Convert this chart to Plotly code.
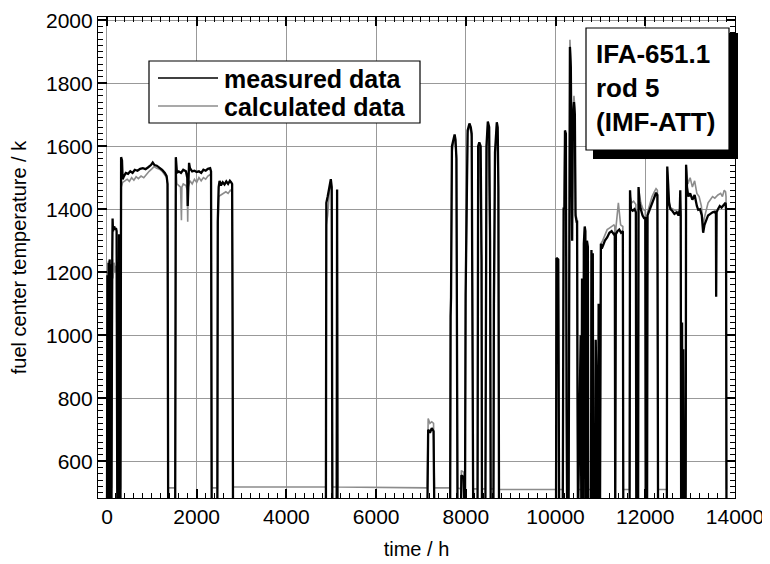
import plotly.graph_objects as go

# ---------------- data (time / h, temperature / K) ----------------
meas_t = [
    0, 10, 20, 35, 45, 60, 75, 90, 100, 115, 125, 135, 160, 185, 200, 215, 230, 255, 270, 280, 300,
    315, 335, 350, 380, 420, 470, 520, 570, 620, 680, 740, 800, 860, 920, 980, 1020, 1060, 1110, 1170,
    1230, 1290, 1330, 1350, 1365,
    1520, 1535, 1560, 1600, 1650, 1700, 1760, 1790, 1800, 1810, 1830, 1850, 1900, 1950, 2000, 2050,
    2100, 2150, 2200, 2250, 2300, 2320, 2335,
    2460, 2470, 2490, 2510, 2540, 2580, 2620, 2660, 2700, 2740, 2770, 2790, 2800, 2810,
    4880, 4890, 4920, 4960, 4990, 5010, 5025, 5120, 5130, 5140,
    7140, 7160, 7200, 7240, 7280, 7300,
    7650, 7660, 7670, 7690, 7720, 7750, 7770, 7790, 7800, 7815,
    7890, 7900, 7950, 7960,
    7980, 7995, 8010, 8040, 8080, 8110, 8130, 8150, 8165,
    8260, 8275, 8300, 8330, 8350, 8360,
    8435, 8440, 8460, 8490, 8520, 8540, 8555,
    8615, 8625, 8650, 8690, 8710, 8725, 8740,
    10010, 10020, 10060, 10080,
    10160, 10180, 10200, 10210, 10230, 10245, 10260,
    10290, 10300, 10320, 10340, 10355, 10370, 10385, 10410, 10430, 10445, 10470, 10480, 10490, 10500,
    10560, 10575, 10590, 10620, 10630, 10650, 10665, 10675, 10700, 10720, 10730,
    10790, 10800, 10815, 10830, 10840,
    10880, 10895, 10905, 10915, 10930, 10945, 10960, 10975,
    10990, 11010, 11030, 11060, 11100, 11150, 11200, 11250, 11300, 11320, 11330, 11345, 11380, 11420,
    11460, 11500, 11510,
    11650, 11660, 11680, 11720, 11760, 11790, 11800,
    11840, 11850, 11870, 11900, 11940, 11980, 12000, 12010,
    12040, 12050, 12100, 12150, 12200, 12240, 12270, 12285,
    12480, 12490, 12510, 12530, 12560, 12600, 12650, 12700, 12740, 12770, 12780, 12790, 12800,
    12820, 12830, 12845, 12860, 12875,
    12900, 12910, 12930, 12960, 13000, 13050, 13100, 13150, 13180, 13220, 13260, 13290, 13320, 13360,
    13400, 13450, 13500, 13550, 13575, 13580, 13590, 13620, 13660, 13700, 13750, 13790, 13800, 13810,
]
meas_T = [
    400, 1190, 420, 1230, 430, 1240, 450, 1225, 420, 1200, 1370, 1330, 1345, 1335, 1340, 1330, 440, 430, 1320, 400, 420,
    1565, 1555, 1495, 1505, 1515, 1512, 1520, 1515, 1525, 1522, 1528, 1530, 1527, 1533, 1540, 1548, 1540, 1538, 1532,
    1525, 1515, 1505, 1480, 400,
    400, 1565, 1515, 1520, 1515, 1525, 1520, 1500, 1410, 1510, 1547, 1530, 1520, 1522, 1518, 1520,
    1515, 1525, 1522, 1528, 1530, 1520, 400,
    400, 1360, 1470, 1490, 1475, 1485, 1478, 1488, 1480, 1490, 1485, 1480, 1050, 400,
    400, 1420, 1440, 1470, 1495, 1470, 400, 400, 1462, 400,
    400, 700, 690, 705, 695, 400,
    400, 1060, 1120, 1600, 1625, 1637, 1620, 1560, 1100, 400,
    400, 555, 550, 400,
    400, 1130, 1300, 1650, 1672, 1660, 1640, 1050, 400,
    400, 1600, 1612, 1600, 1240, 400,
    400, 960, 1600, 1678, 1660, 1300, 400,
    400, 1100, 1580, 1676, 1660, 1470, 400,
    400, 1245, 1240, 400,
    400, 1405, 1400, 1650, 1640, 770, 400,
    400, 1500, 1915, 1850, 1400, 1300, 1690, 1740, 1700, 1380, 1360, 1360, 800, 400,
    1000, 400, 1180, 400, 1290, 1345, 1330, 400, 1300, 1280, 400,
    400, 1270, 600, 1260, 400,
    400, 985, 900, 400, 805, 400, 1100, 400,
    400, 1290, 1275, 1285, 1300, 1310, 1325, 1330, 1320, 1325, 400, 1320, 1330, 1335,
    1325, 1330, 400,
    400, 1460, 1400, 1395, 1400, 1390, 400,
    400, 1470, 1420, 1400, 1380, 1370, 1375, 400,
    400, 1380, 1400, 1420, 1440, 1452, 1445, 400,
    400, 1535, 1480, 1420, 1400, 1395, 1385, 1390, 1380, 1400, 1460, 1380, 400,
    1040, 400, 955, 400, 400,
    400, 1541, 1470, 1440, 1450, 1430, 1445, 1410, 1398, 1400, 1380, 1325, 1350, 1365,
    1380, 1385, 1390, 1392, 1385, 1122, 1390, 1400, 1410, 1405, 1415, 1420, 1400, 400,
]

calc_t = [
    0, 10, 20, 35, 45, 60, 75, 90, 100, 115, 125, 135, 160, 185, 200, 215, 230, 255, 270, 280, 300,
    320, 350, 400, 450, 500, 550, 600, 650, 700, 760, 820, 880, 940, 1000, 1050, 1110, 1170, 1230,
    1290, 1330, 1350, 1365,
    1520, 1535, 1560, 1600, 1640, 1660, 1670, 1700, 1760, 1790, 1800, 1810, 1850, 1900, 1950, 2000,
    2050, 2100, 2150, 2200, 2250, 2300, 2320, 2335,
    2460, 2470, 2490, 2540, 2600, 2650, 2700, 2750, 2790, 2800, 2810,
    4880, 4890, 4920, 4960, 4990, 5010, 5025, 5120, 5130, 5140,
    7140, 7160, 7200, 7240, 7280, 7300,
    7650, 7660, 7690, 7750, 7790, 7815,
    7890, 7900, 7950, 7960,
    7980, 7995, 8040, 8080, 8130, 8165,
    8260, 8275, 8300, 8350, 8360,
    8435, 8460, 8490, 8540, 8555,
    8615, 8650, 8690, 8725, 8740,
    10010, 10020, 10060, 10080,
    10160, 10180, 10210, 10230, 10260,
    10290, 10300, 10320, 10340, 10355, 10370, 10385, 10410, 10430, 10445, 10470, 10490, 10500,
    10620, 10630, 10650, 10675, 10700, 10730,
    10790, 10800, 10840,
    10880, 10895, 10915, 10930, 10945,
    10990, 11010, 11050, 11100, 11150, 11200, 11250, 11300, 11320, 11330, 11345, 11400, 11450,
    11500, 11510,
    11650, 11660, 11700, 11740, 11790, 11800,
    11840, 11850, 11900, 11950, 12000, 12010,
    12040, 12050, 12100, 12150, 12200, 12240, 12270, 12285,
    12480, 12490, 12520, 12560, 12620, 12680, 12740, 12790, 12800,
    12900, 12910, 12950, 13000, 13050, 13100, 13150, 13200, 13250, 13290, 13330, 13400, 13450,
    13500, 13550, 13620, 13680, 13720, 13760, 13790, 13800, 13810,
]
calc_T = [
    515, 1180, 515, 1235, 515, 1240, 515, 1200, 515, 1190, 1240, 1180, 1230, 1200, 1220, 1190, 515, 515, 1300, 515, 515,
    1470, 1485, 1490, 1495, 1488, 1500, 1492, 1503, 1497, 1505, 1500, 1512, 1520, 1528, 1535, 1530, 1527, 1520,
    1510, 1500, 1480, 515,
    515, 1540, 1480, 1475, 1470, 1365, 1470, 1480, 1475, 1460, 1360, 1470, 1490, 1480, 1495, 1485,
    1500, 1490, 1500, 1495, 1505, 1510, 1500, 515,
    515, 1300, 1440, 1445, 1450, 1455, 1450, 1460, 1455, 1040, 518,
    518, 1350, 1380, 1460, 1480, 1460, 518, 518, 1445, 518,
    515, 735, 720, 725, 720, 515,
    515, 1000, 1580, 1630, 1570, 515,
    512, 570, 565, 512,
    512, 1100, 1640, 1668, 1630, 512,
    512, 1590, 1605, 1230, 512,
    512, 1590, 1670, 1290, 512,
    512, 1570, 1668, 1460, 510,
    510, 1240, 1235, 510,
    510, 1395, 1640, 1630, 510,
    510, 1450, 1938, 1870, 1420, 1320, 1700, 1760, 1720, 1390, 1370, 800, 510,
    510, 1280, 1340, 510, 1290, 510,
    510, 1265, 510,
    510, 980, 510, 800, 510,
    510, 1290, 1300, 1320, 1335, 1340, 1345, 1350, 1345, 510, 1340, 1420, 1350,
    1345, 510,
    510, 1440, 1420, 1425, 1415, 510,
    510, 1465, 1420, 1400, 1395, 510,
    510, 1390, 1420, 1440, 1455, 1465, 1460, 510,
    510, 1520, 1430, 1405, 1400, 1395, 1390, 1395, 510,
    510, 1541, 1480, 1500, 1470, 1490, 1450, 1440, 1410, 1350, 1380, 1420, 1430,
    1440, 1435, 1445, 1450, 1440, 1460, 1455, 1440, 510,
]

x_ticks = [0, 2000, 4000, 6000, 8000, 10000, 12000, 14000]
y_ticks = [600, 800, 1000, 1200, 1400, 1600, 1800, 2000]
x_range = [-200, 14000]
y_range = [483, 2010]
series_names = ["measured data", "calculated data"]
box_lines = ["IFA-651.1", "rod 5", "(IMF-ATT)"]

# ---------------- layout helpers ----------------
# the page body has an 8px default margin, so the figure is placed at (8, 8)
OFF = 8
W, H = 770 - OFF, 564 - OFF
ML, MR, MT, MB = 98 - OFF, 35, 17 - OFF, 66
PL, PT = 98, 17              # plot-area top-left in page pixels
PW, PH = 637, 481


def px(x):
    return (x - PL) / PW


def py(y):
    return 1 - (y - PT) / PH


GRAY = "#8c8c8c"
FONT = "Liberation Sans, Arial, Helvetica, sans-serif"

fig = go.Figure()
fig.add_trace(go.Scatter(x=calc_t, y=calc_T, mode="lines", name=series_names[1],
                         line=dict(color=GRAY, width=1.6), showlegend=False))
fig.add_trace(go.Scatter(x=meas_t, y=meas_T, mode="lines", name=series_names[0],
                         line=dict(color="black", width=2.3), showlegend=False))
# empty trace on the overlay axes that carry the minor ticks
fig.add_trace(go.Scatter(x=[None], y=[None], xaxis="x2", yaxis="y2", showlegend=False, hoverinfo="skip"))

tickfont = dict(family=FONT, size=21, color="black")
fig.update_layout(
    xaxis=dict(range=x_range, tickvals=x_ticks, ticktext=[str(v) for v in x_ticks],
               showline=True, linecolor="black", linewidth=1.2, mirror="ticks",
               ticks="inside", tickcolor="black", tickwidth=1.5, ticklen=9,
               showgrid=True, gridcolor="#999999", gridwidth=1, zeroline=False, automargin=False,
               tickfont=tickfont,
               title=dict(text="time / h", font=dict(family=FONT, size=20, color="black"), standoff=14)),
    yaxis=dict(range=y_range, tickvals=y_ticks, ticktext=[str(v) for v in y_ticks],
               showline=True, linecolor="black", linewidth=1.2, mirror="ticks",
               ticks="inside", tickcolor="black", tickwidth=1.5, ticklen=9,
               showgrid=True, gridcolor="#999999", gridwidth=1, zeroline=False, automargin=False,
               tickfont=tickfont,
               title=dict(text="fuel center temperature / k", font=dict(family=FONT, size=20, color="black"),
                          standoff=14)),
    xaxis2=dict(range=x_range, overlaying="x", anchor="y2", side="bottom", tickmode="linear", tick0=0, dtick=200,
                ticks="inside", ticklen=5, tickcolor="black", tickwidth=1.2, mirror="ticks", showline=True,
                linecolor="black", linewidth=1.2,
                showticklabels=False, showgrid=False, zeroline=False, automargin=False),
    yaxis2=dict(range=y_range, overlaying="y", anchor="x2", side="left", tickmode="linear", tick0=0, dtick=20,
                ticks="inside", ticklen=5, tickcolor="black", tickwidth=1.2, mirror="ticks", showline=True,
                linecolor="black", linewidth=1.2,
                showticklabels=False, showgrid=False, zeroline=False, automargin=False),
)

shapes = []
# legend box
shapes.append(dict(type="rect", xref="paper", yref="paper", x0=px(149), x1=px(420), y0=py(123), y1=py(61),
                   line=dict(color="black", width=1.2), fillcolor="white", layer="above"))
shapes.append(dict(type="line", xref="paper", yref="paper", x0=px(158), x1=px(218), y0=py(78), y1=py(78),
                   line=dict(color="black", width=1.5), layer="above"))
shapes.append(dict(type="line", xref="paper", yref="paper", x0=px(158), x1=px(218), y0=py(106), y1=py(106),
                   line=dict(color=GRAY, width=1.5), layer="above"))
# info box shadow + box
shapes.append(dict(type="rect", xref="paper", yref="paper", x0=px(593), x1=px(738), y0=py(159), y1=py(33),
                   line=dict(width=0), fillcolor="black", layer="above"))
shapes.append(dict(type="rect", xref="paper", yref="paper", x0=px(586), x1=px(729), y0=py(150), y1=py(28),
                   line=dict(color="black", width=1.2), fillcolor="white", layer="above"))

annotations = [
    dict(xref="paper", yref="paper", x=px(222), y=py(79), xanchor="left", yanchor="middle",
         text=series_names[0], showarrow=False,
         font=dict(family=FONT, size=25, color="black", weight="bold")),
    dict(xref="paper", yref="paper", x=px(222), y=py(107), xanchor="left", yanchor="middle",
         text=series_names[1], showarrow=False,
         font=dict(family=FONT, size=25, color="black", weight="bold")),
    dict(xref="paper", yref="paper", x=px(594), y=py(88), xanchor="left", yanchor="middle",
         text="<br>".join(box_lines), align="left", showarrow=False,
         font=dict(family=FONT, size=26, color="black", weight="bold")),
]

fig.update_layout(width=W, height=H, margin=dict(l=ML, r=MR, t=MT, b=MB, autoexpand=False),
                  paper_bgcolor="white", plot_bgcolor="white",
                  shapes=shapes, annotations=annotations, showlegend=False)

fig.write_html("out.html")
